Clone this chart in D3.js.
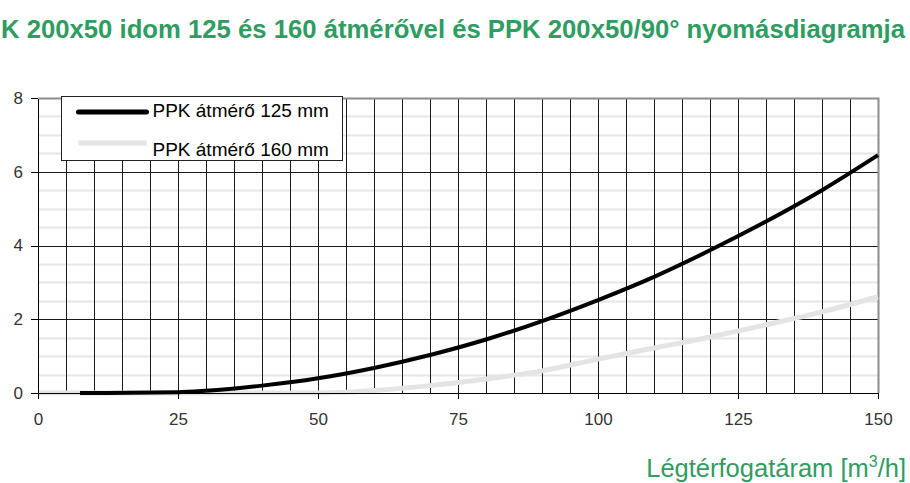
<!DOCTYPE html>
<html>
<head>
<meta charset="UTF-8">
<title>PPK nyomásdiagram</title>
<script src="https://cdn.jsdelivr.net/npm/d3@7"></script>
<style>
    body { margin: 0; background: #fff; }
    svg { display: block; font-family: "Liberation Sans", Arial, sans-serif; }
    .axis text { font-size: 17px; fill: #333; }
    .axis path, .axis line { stroke: #000; shape-rendering: crispEdges; }
</style>
</head>
<body>
<script>

// values
var titleText = "K 200x50 idom 125 és 160 átmérővel és PPK 200x50/90° nyomásdiagramja";
var seriesNames = ["PPK átmérő 125 mm", "PPK átmérő 160 mm"];
var flow125 = [7.5, 25, 30, 40, 50, 60, 70, 80, 90, 100, 110, 120, 130, 140, 150];
var dp125   = [0, 0.02, 0.06, 0.2, 0.4, 0.68, 1.03, 1.45, 1.95, 2.52, 3.15, 3.87, 4.65, 5.5, 6.45];
var flow160 = [0, 50, 55, 60, 70, 80, 90, 100, 110, 120, 130, 140, 150];
var dp160   = [0, 0, 0.02, 0.07, 0.2, 0.38, 0.6, 0.92, 1.22, 1.52, 1.85, 2.2, 2.61];
var xTicks = [0, 25, 50, 75, 100, 125, 150];
var yTicks = [0, 2, 4, 6, 8];

var W = 910, H = 483;
var margin = {top: 98, right: 32, bottom: 90, left: 38};
var width = W - margin.left - margin.right,
    height = H - margin.top - margin.bottom;
var green = "#2f9c62";

var svg = d3.select("body").append("svg")
        .attr("width", W)
        .attr("height", H);

svg.append("text")
        .attr("x", 1)
        .attr("y", 38)
        .attr("textLength", 904)
        .attr("lengthAdjust", "spacingAndGlyphs")
        .style("font-size", "25px")
        .style("font-weight", "bold")
        .style("fill", green)
        .text(titleText);

svg.append("text")
        .attr("x", 906)
        .attr("y", 477)
        .attr("text-anchor", "end")
        .style("font-size", "25.5px")
        .style("fill", green)
        .text("Légtérfogatáram [m")
        .append("tspan").attr("dy", -10).style("font-size", "16px").text("3")
        .select(function () { return this.parentNode; })
        .append("tspan").attr("dy", 10).text("/h]");

var g = svg.append("g")
        .attr("transform", "translate(" + margin.left + "," + margin.top + ")");

var x = d3.scaleLinear().domain([0, 150]).range([0, width]);
var y = d3.scaleLinear().domain([0, 8]).range([height, 0]);

// minor horizontal grid (every 0.5)
g.append("g").selectAll("line")
        .data(d3.range(0.5, 8, 0.5).filter(function (d) { return d % 2 !== 0; }))
        .enter().append("line")
        .attr("x1", 0).attr("x2", width)
        .attr("y1", function (d) { return Math.round(y(d)) + 0.5; })
        .attr("y2", function (d) { return Math.round(y(d)) + 0.5; })
        .attr("stroke", "#e6e6e6")
        .attr("stroke-width", 2);

// vertical grid every 5
g.append("g").selectAll("line")
        .data(d3.range(5, 150, 5))
        .enter().append("line")
        .attr("x1", function (d) { return Math.round(x(d)) + 0.5; })
        .attr("x2", function (d) { return Math.round(x(d)) + 0.5; })
        .attr("y1", 0).attr("y2", height)
        .attr("stroke", "#1a1a1a");

// major horizontal grid
g.append("g").selectAll("line")
        .data([2, 4, 6])
        .enter().append("line")
        .attr("x1", 0).attr("x2", width)
        .attr("y1", function (d) { return Math.round(y(d)) + 0.5; })
        .attr("y2", function (d) { return Math.round(y(d)) + 0.5; })
        .attr("stroke", "#1a1a1a");

// top and right border
g.append("path")
        .attr("d", "M0.5,0.5H" + (width + 0.5) + "V" + height)
        .attr("fill", "none")
        .attr("stroke", "#8c8c8c")
        .attr("stroke-width", 2);

var line = d3.line()
        .x(function (d) { return x(d[0]); })
        .y(function (d) { return y(d[1]); })
        .curve(d3.curveMonotoneX);

g.append("path")
        .datum(d3.zip(flow160, dp160))
        .attr("fill", "none")
        .attr("stroke", "#e4e4e4")
        .attr("stroke-width", 5)
        .attr("d", line);

g.append("path")
        .datum(d3.zip(flow125, dp125))
        .attr("fill", "none")
        .attr("stroke", "#000")
        .attr("stroke-width", 4)
        .attr("d", line);

g.append("g")
        .attr("class", "axis")
        .attr("transform", "translate(0," + height + ")")
        .call(d3.axisBottom(x).tickValues(xTicks).tickSize(6).tickPadding(14).tickSizeOuter(0));

g.append("g")
        .attr("class", "axis")
        .call(d3.axisLeft(y).tickValues(yTicks).tickSize(7).tickPadding(8).tickSizeOuter(0));

// legend
var leg = svg.append("g").attr("transform", "translate(61.5,96.5)");
leg.append("rect")
        .attr("width", 281).attr("height", 64)
        .attr("fill", "#fff")
        .attr("stroke", "#222");

var legColors = ["#000", "#e4e4e4"];
seriesNames.forEach(function (name, i) {
    var yy = i === 0 ? 15.5 : 46.5;
    leg.append("line")
            .attr("x1", 17).attr("x2", 85)
            .attr("y1", yy).attr("y2", yy)
            .attr("stroke", legColors[i])
            .attr("stroke-width", 5)
            .attr("stroke-linecap", i === 0 ? "round" : "butt");
    leg.append("text")
            .attr("x", 91)
            .attr("y", i === 0 ? 20 : 59)
            .style("font-size", "19px")
            .style("fill", "#000")
            .text(name);
});

</script>
</body>
</html>
